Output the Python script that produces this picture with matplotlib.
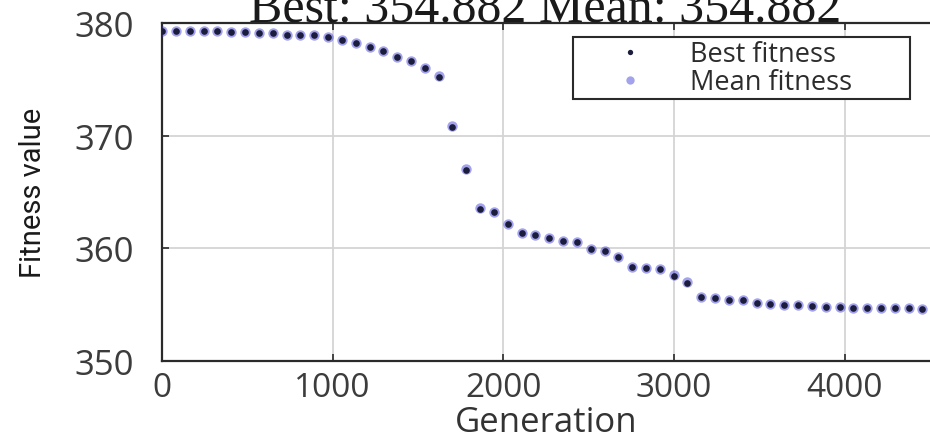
import matplotlib
matplotlib.use("Agg")
import matplotlib.pyplot as plt

# generations at which the GA state was plotted
gens = [1, 82, 163, 244, 325, 406, 487, 568, 649, 730, 811, 892, 973, 1054,
        1135, 1216, 1297, 1378, 1459, 1540, 1621, 1702, 1783, 1864, 1945, 2026,
        2107, 2188, 2269, 2350, 2431, 2512, 2593, 2674, 2755, 2836, 2917, 2998,
        3079, 3160, 3241, 3322, 3403, 3484, 3565, 3646, 3727, 3808, 3889, 3970,
        4051, 4132, 4213, 4294, 4375, 4456]

best = [379.26, 379.26, 379.26, 379.26, 379.26, 379.24, 379.17, 379.11, 379.10,
        378.96, 378.95, 378.94, 378.73, 378.52, 378.23, 377.84, 377.49, 376.96,
        376.60, 375.98, 375.23, 370.74, 366.98, 363.49, 363.25, 362.14, 361.38,
        361.14, 360.88, 360.69, 360.55, 359.97, 359.73, 359.20, 358.38, 358.23,
        358.17, 357.55, 356.95, 355.69, 355.63, 355.45, 355.39, 355.16, 355.09,
        355.00, 355.00, 354.88, 354.79, 354.79, 354.73, 354.73, 354.70, 354.70,
        354.70, 354.64]

mean = [379.26, 379.26, 379.26, 379.26, 379.26, 379.24, 379.17, 379.11, 379.10,
        378.96, 378.95, 378.94, 378.73, 378.52, 378.23, 377.84, 377.49, 376.96,
        376.60, 376.05, 375.33, 370.84, 367.08, 363.59, 363.25, 362.14, 361.38,
        361.14, 360.88, 360.69, 360.55, 359.97, 359.73, 359.20, 358.38, 358.23,
        358.17, 357.62, 357.02, 355.69, 355.63, 355.45, 355.39, 355.16, 355.09,
        355.00, 355.00, 354.88, 354.79, 354.79, 354.73, 354.73, 354.70, 354.70,
        354.70, 354.64]

xticks = [0, 1000, 2000, 3000, 4000]
yticks = [350, 360, 370, 380]
title = "Best: 354.882 Mean: 354.882"

tick_col = "#3c3c3c"

fig = plt.figure(figsize=(9.3, 4.39), dpi=100)
ax = fig.add_axes([0.1742, 0.1754, 0.8258, 0.7699])

ax.plot(gens, mean, "o", color="#3434d8", ms=7.5, alpha=0.45, mec="none",
        label="Mean fitness", zorder=3)
ax.plot(gens, best, "o", color="#1c1c3c", ms=4.8, mec="none",
        label="Best fitness", zorder=4)

ax.set_xlim(0, 4500)
ax.set_ylim(350, 380)
ax.set_xticks(xticks)
ax.set_yticks(yticks)
ax.grid(True, color="#d4d4d4", lw=1.3)
ax.set_axisbelow(True)

for s in ["left", "bottom", "top"]:
    ax.spines[s].set_color("#2a2a2a")
    ax.spines[s].set_linewidth(1.6)
ax.spines["right"].set_visible(False)

ax.tick_params(direction="in", length=5, width=1.2, top=True, right=False,
               colors="#2a2a2a", labelcolor=tick_col)
ax.tick_params(axis="x", labelsize=24, pad=7)
ax.tick_params(axis="y", labelsize=25, pad=20)
for lab in ax.get_xticklabels() + ax.get_yticklabels():
    lab.set_family("Open Sans")

ax.set_xlabel("Generation", fontsize=25, family="Open Sans", color="#333333",
              va="center")
ax.xaxis.set_label_coords(0.5, -0.18)
ax.set_ylabel("Fitness value", fontsize=21, color="#1a1a1a",
              family=["Liberation Sans Narrow", "Roboto", "DejaVu Sans"])
ax.yaxis.set_label_coords(-0.15, 0.5)

h, l = ax.get_legend_handles_labels()
leg = ax.legend(h[::-1], l[::-1], loc="upper left",
                bbox_to_anchor=(0.535, 0.781, 0.439, 0.178), mode="expand",
                borderaxespad=0, fancybox=False, framealpha=1, edgecolor="#2a2a2a",
                prop={"family": "Open Sans", "size": 19.5}, handlelength=4.0,
                handletextpad=0.2, labelspacing=0.0, borderpad=0.12,
                markerscale=0.8)
leg.get_frame().set_linewidth(1.5)
for t in leg.get_texts():
    t.set_color("#2c2c2c")

fig.text(0.586, 1 - 21 / 439, title, ha="center", va="baseline", fontsize=36,
         family="Liberation Serif", color="#1a1a1a")

fig.savefig("out.png", dpi=100)
